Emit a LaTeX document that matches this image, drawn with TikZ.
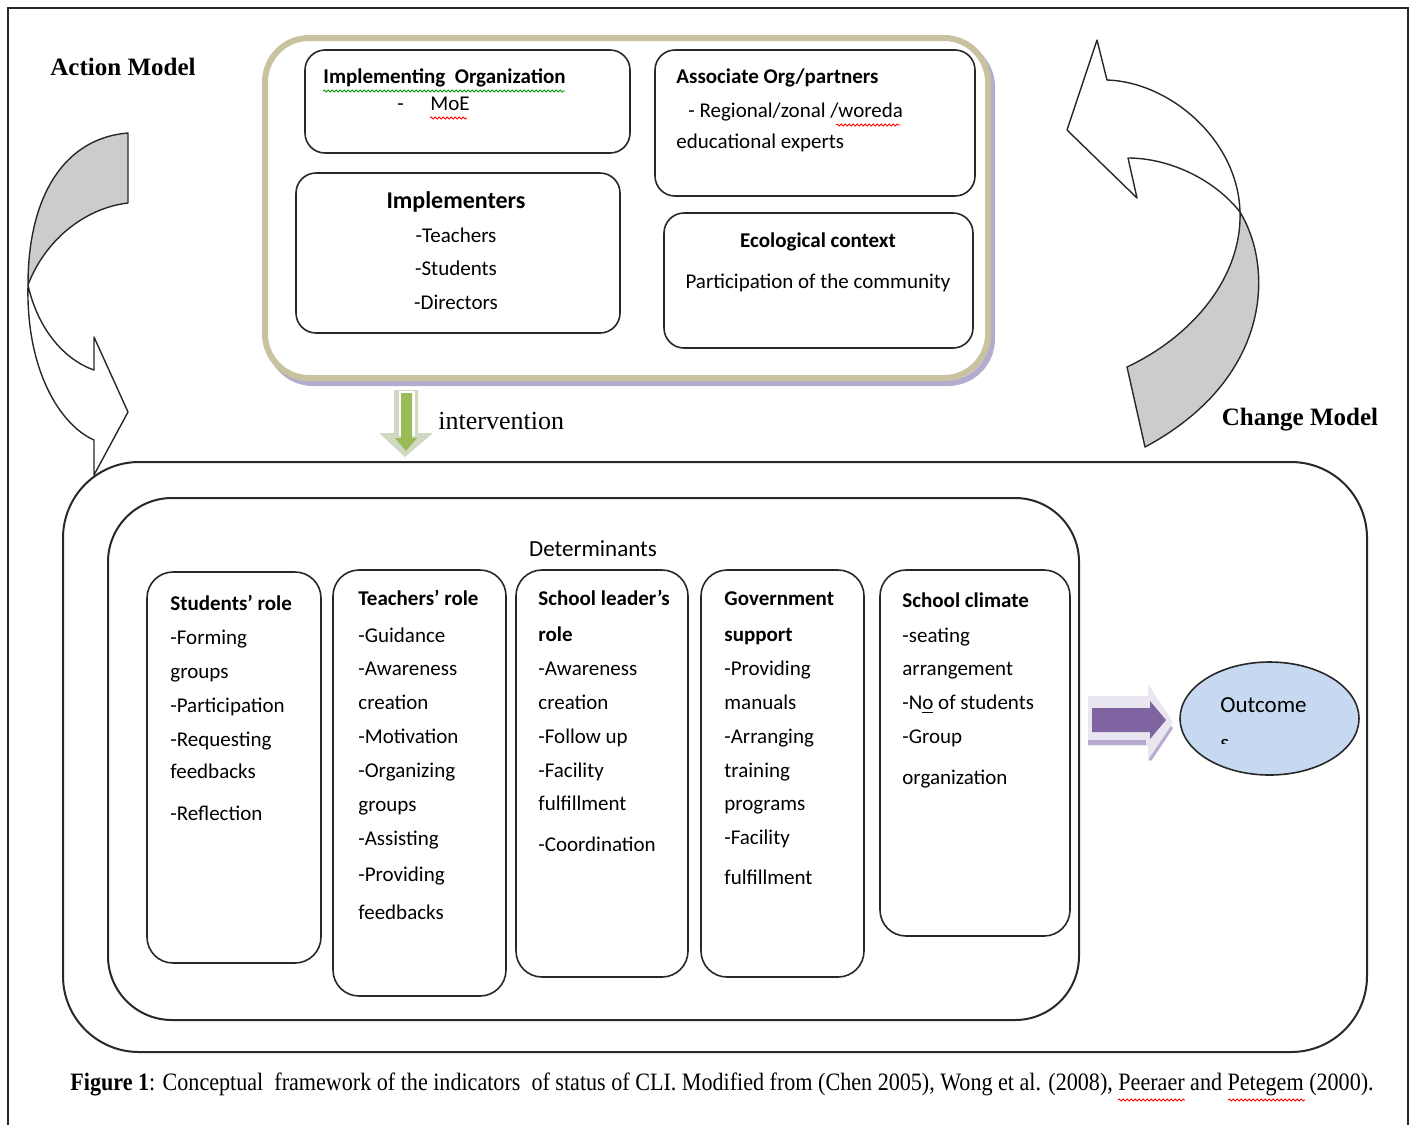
\documentclass[tikz,border=0pt]{standalone}
\usepackage{fontspec}
\setmainfont{Liberation Serif}
\newfontfamily\boxfont{Carlito}
\newfontfamily\capfont[FakeStretch=0.884]{Liberation Serif}
\usepackage{tikz}
\usetikzlibrary{fit}
\usetikzlibrary{shapes.geometric}
\usetikzlibrary{decorations.pathmorphing}

\definecolor{khaki}{RGB}{200,195,158}
\definecolor{shadowlav}{RGB}{180,172,206}
\definecolor{bandgray}{RGB}{204,204,204}
\definecolor{ivgreen}{RGB}{155,187,89}
\definecolor{ivpale}{RGB}{208,216,194}
\definecolor{arrpurple}{RGB}{128,100,162}
\definecolor{arrpale}{RGB}{234,230,240}
\definecolor{arrlav}{RGB}{184,170,208}
\definecolor{outblue}{RGB}{198,217,241}
\definecolor{linegray}{RGB}{40,40,40}

\tikzset{
  roundbox/.style={draw=linegray, line width=0.8pt, rounded corners=10pt, inner sep=0pt},
  detbox/.style={draw=linegray, line width=0.8pt, rounded corners=13pt, inner sep=0pt},
  bigbox/.style={draw=linegray, line width=1pt, inner sep=0pt},
  bodytxt/.style={anchor=base west, yshift=-3pt, inner sep=0pt, font=\boxfont\fontsize{10.5}{12}\selectfont},
  headtxt/.style={bodytxt, font=\boxfont\bfseries\fontsize{10.5}{12}\selectfont},
  ctrtxt/.style={bodytxt, anchor=base},
  ctrhead/.style={headtxt, anchor=base},
  modeltxt/.style={inner sep=0pt, font=\bfseries\fontsize{12.5}{14}\selectfont},
  band/.style={draw=linegray, line width=0.7pt, line join=round},
  spellred/.style={draw=red, line width=0.4pt, decorate, decoration={snake, amplitude=0.5pt, segment length=2pt}},
  spellgreen/.style={spellred, draw=green!60!black}
}

\begin{document}
\begin{tikzpicture}[x=0.5pt, y=-0.5pt]
\useasboundingbox (0,0) rectangle (1411,1125);
% page frame
\draw[linegray, line width=1pt] (8,1125) -- (8,8) -- (1408,8) -- (1408,1125);

% action model (top)
\draw[shadowlav, line width=3pt, rounded corners=22pt] (269,43) rectangle (992,383);
\node[draw=khaki, line width=3pt, fill=white, rounded corners=22pt, inner sep=0pt,
      fit={(265,38) (988,378)}] (actmodel) {};
\node[roundbox, fit={(305,50) (630,153)}] (implorg) {};
\node[roundbox, fit={(655,50) (975,196)}] (assoc) {};
\node[roundbox, fit={(296,173) (620,333)}] (implem) {};
\node[roundbox, fit={(664,213) (973,348)}] (eco) {};

\node[headtxt] (implorg-t) at (323,77) {Implementing\ \ Organization};
\draw[spellgreen] (323,91) -- (565,91);
\node[bodytxt] (implorg-d) at (397,104) {-};
\node[bodytxt] (implorg-m) at (430,104) {MoE};
\draw[spellred] (430,118) -- (467,118);

\node[headtxt] (assoc-t) at (676,77) {Associate Org/partners};
\node[bodytxt] (assoc-1) at (688,111) {- Regional/zonal\ /woreda};
\draw[spellred] (836,125) -- (900,125);
\node[bodytxt] (assoc-2) at (676,142) {educational experts};

\node[ctrhead, font=\boxfont\bfseries\fontsize{12}{14}\selectfont] (implem-t) at (456,202) {Implementers};
\foreach \y/\t [count=\i] in {236/-Teachers, 269/-Students, 303/-Directors}
  \node[ctrtxt] (implem-\i) at (456,\y) {\t};

\node[ctrhead] (eco-t) at (818,241) {Ecological context};
\node[ctrtxt] (eco-1) at (818,282) {Participation of the community};

% intervention arrow
\fill[ivpale] (394,390) -- (418,390) -- (418,433) -- (433,433) -- (405,457) -- (379,433) -- (394,433) -- cycle;
\fill[white] (399,391) -- (415,391) -- (415,436) -- (399,436) -- cycle;
\fill[ivgreen] (401,393) -- (412,393) -- (412,438) -- (417,438) -- (406,451) -- (395,438) -- (401,438) -- cycle;
\node[anchor=base west, inner sep=0pt, font=\fontsize{13}{15}\selectfont] (interv) at (438,429) {intervention};

\node[modeltxt] (action) at (123,67) {Action Model};
\node[modeltxt] (change) at (1300,420) {Change Model};

% left curved arrow
\filldraw[band, fill=bandgray] (128,133) .. controls (65,138) and (28,195) .. (28,285)
  .. controls (45,240) and (85,208) .. (128,203) -- cycle;
\filldraw[band, fill=white] (28,285) .. controls (38,330) and (65,360) .. (94,370)
  -- (94,337) -- (128,412) -- (94,475) -- (94,440)
  .. controls (60,425) and (26,370) .. (28,285) -- cycle;

% right curved arrow
\filldraw[band, fill=white] (1107,80) -- (1097,40) -- (1067,130) -- (1137,198) -- (1128,158)
  .. controls (1170,158) and (1215,180) .. (1240,212)
  .. controls (1238,140) and (1170,82) .. (1107,80) -- cycle;
\filldraw[band, fill=bandgray] (1240,212) .. controls (1275,270) and (1270,380) .. (1145,447)
  -- (1127,367) .. controls (1195,335) and (1242,275) .. (1240,212) -- cycle;

% change model (bottom)
\node[bigbox, rounded corners=38pt, fit={(63,462) (1367,1052)}] (chgmodel) {};
\node[bigbox, rounded corners=32pt, fit={(108,498) (1079,1020)}] (det) {};
\node[ctrtxt, font=\boxfont\fontsize{11.5}{13}\selectfont] (det-t) at (593,550) {Determinants};

\node[detbox, fit={(147,572) (321,963)}] (stud) {};
\node[detbox, fit={(333,570) (506,996)}] (teach) {};
\node[detbox, fit={(516,570) (688,977)}] (lead) {};
\node[detbox, fit={(701,570) (864,977)}] (gov) {};
\node[detbox, fit={(880,570) (1070,936)}] (clim) {};

\node[headtxt] (stud-t) at (170,604) {Students’ role};
\foreach \y/\t [count=\i] in {638/-Forming, 672/groups, 706/-Participation,
    740/-Requesting, 772/feedbacks, 814/-Reflection}
  \node[bodytxt] (stud-\i) at (170,\y) {\t};

\node[headtxt] (teach-t) at (358,599) {Teachers’ role};
\foreach \y/\t [count=\i] in {636/-Guidance, 669/-Awareness, 703/creation, 737/-Motivation,
    771/-Organizing, 805/groups, 839/-Assisting, 875/-Providing, 913/feedbacks}
  \node[bodytxt] (teach-\i) at (358,\y) {\t};

\node[headtxt] (lead-t) at (538,599) {School leader’s};
\node[headtxt] (lead-t2) at (538,635) {role};
\foreach \y/\t [count=\i] in {669/-Awareness, 703/creation, 737/-Follow up,
    771/-Facility, 804/fulfillment, 845/-Coordination}
  \node[bodytxt] (lead-\i) at (538,\y) {\t};

\node[headtxt] (gov-t) at (724,599) {Government};
\node[headtxt] (gov-t2) at (724,635) {support};
\foreach \y/\t [count=\i] in {669/-Providing, 703/manuals, 737/-Arranging, 771/training,
    804/programs, 838/-Facility, 878/fulfillment}
  \node[bodytxt] (gov-\i) at (724,\y) {\t};

\node[headtxt] (clim-t) at (902,601) {School climate};
\foreach \y/\t [count=\i] in {636/-seating, 669/arrangement, 703/{-N\underline{o} of students},
    737/-Group, 778/organization}
  \node[bodytxt] (clim-\i) at (902,\y) {\t};

% outcome arrow
\fill[arrpale] (1088,696) -- (1148,696) -- (1148,684) -- (1173,722) -- (1148,762) -- (1148,746) -- (1088,746) -- cycle;
\fill[arrlav] (1088,740) rectangle (1146,745);
\draw[arrlav, line width=1.5pt] (1150,760) -- (1172,727);
\fill[arrpurple] (1092,708) -- (1150,708) -- (1150,701) -- (1166,720) -- (1150,739) -- (1150,732) -- (1092,732) -- cycle;

\node[ellipse, draw=linegray, line width=0.8pt, fill=outblue, minimum width=89.5pt, minimum height=56.5pt,
      inner sep=0pt] (outc) at (1269.5,718.5) {};
\node[bodytxt, font=\boxfont\fontsize{11.5}{13}\selectfont] (outc-t) at (1220,706) {Outcome};
\begin{scope}
  \clip (1215,734) rectangle (1235,743);
  \node[bodytxt, font=\boxfont\fontsize{11.5}{13}\selectfont] (outc-s) at (1220,744) {s};
\end{scope}

% caption
\node[anchor=base west, inner sep=0pt, font=\capfont\fontsize{12.5}{14}\selectfont] (capt) at (70,1090)
  {\textbf{Figure 1}: Conceptual\ \ framework of the indicators\ \ of status of CLI. Modified from (Chen 2005), Wong et al. (2008), Peeraer and Petegem (2000).};
\draw[spellred] (1118,1100) -- (1185,1100);
\draw[spellred] (1228,1100) -- (1305,1100);
\end{tikzpicture}
\end{document}
